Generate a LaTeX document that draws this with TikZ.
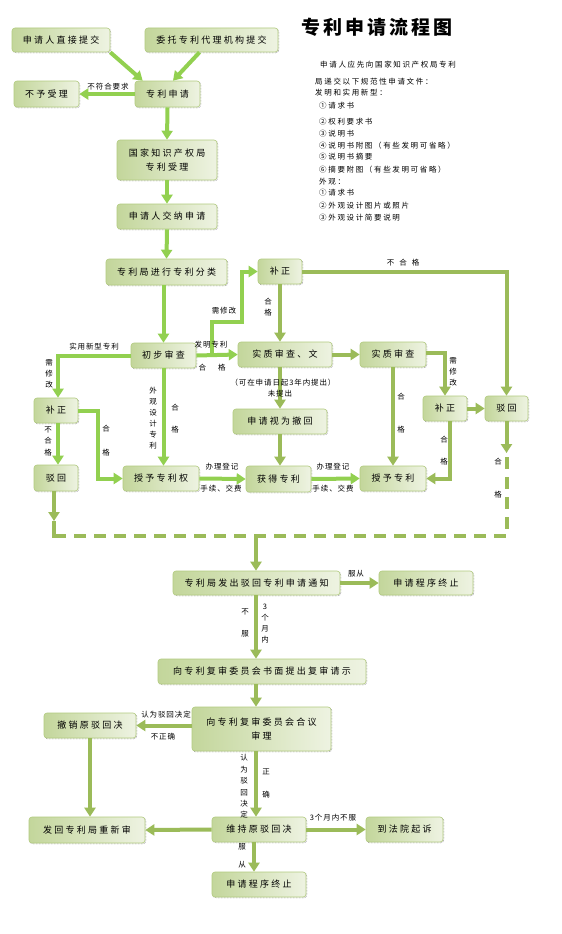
\documentclass[tikz,border=0pt]{standalone}
\usepackage{fontspec}
\newfontfamily\cjkbox[LetterSpace=25]{Noto Sans CJK SC}
\newfontfamily\cjklbl[LetterSpace=12]{Noto Sans CJK SC}
\newfontfamily\cjknote[LetterSpace=22]{Noto Sans CJK SC}
\newfontfamily\cjktitle[LetterSpace=15]{Noto Sans CJK SC}
\usetikzlibrary{arrows.meta,shadows,calc}
\definecolor{boxD}{HTML}{C3D69B}
\definecolor{boxL}{HTML}{EEF3E2}
\definecolor{boxB}{HTML}{B2CB7F}
\definecolor{limeC}{HTML}{92D050}
\definecolor{oliveC}{HTML}{9BBB59}
\tikzset{
  box/.style={rounded corners=3pt, draw=boxB, line width=0.6pt,
    left color=boxD, right color=boxL, inner sep=0pt, align=center,
    font=\cjkbox\fontsize{9}{14}\selectfont,
    general shadow={shadow xshift=0.8pt, shadow yshift=-0.8pt, fill=white,
      draw=black!65, densely dotted, line width=0.5pt}},
  wh/.style 2 args={minimum width=#1pt, minimum height=#2pt},
  lbl/.style={inner sep=0pt, align=center, font=\cjklbl\fontsize{7.5}{9}\selectfont},
  note/.style={inner sep=0pt, anchor=west, font=\cjknote\fontsize{7.5}{9}\selectfont},
  lime/.style={draw=limeC, line width=4pt, -{Triangle[width=11pt,length=9pt]}},
  olive/.style={draw=oliveC, line width=4pt, -{Triangle[width=11pt,length=9pt]}},
  limeline/.style={draw=limeC, line width=4pt},
  oliveline/.style={draw=oliveC, line width=4pt},
  dashline/.style={draw=oliveC, line width=4pt, dash pattern=on 12pt off 8pt},
}
\begin{document}
\begin{tikzpicture}[x=1pt,y=-1pt]
\fill[white] (0,0) rectangle (562,934);
\useasboundingbox (0,0) rectangle (562,934);

% title and notes
\node[inner sep=0pt, font=\cjktitle\bfseries\fontsize{19}{22}\selectfont] (title) at (377,27) {专利申请流程图};
\node[note] (t1) at (320,65) {申请人应先向国家知识产权局专利};
\node[note] (t2) at (315,82) {局递交以下规范性申请文件：};
\node[note] (t3) at (315,93) {发明和实用新型：};
\node[note] (t4) at (319,106) {①请求书};
\node[note] (t5) at (319,122) {②权利要求书};
\node[note] (t6) at (319,134) {③说明书};
\node[note] (t7) at (319,146) {④说明书附图（有些发明可省略）};
\node[note] (t8) at (319,157) {⑤说明书摘要};
\node[note] (t9) at (319,170) {⑥摘要附图（有些发明可省略）};
\node[note] (t10) at (319,182) {外观：};
\node[note] (t11) at (319,193) {①请求书};
\node[note] (t12) at (319,206) {②外观设计图片或照片};
\node[note] (t13) at (319,218) {③外观设计简要说明};

% boxes
\node[box, wh={98}{24}] (n1) at (61,40) {申请人直接提交};
\node[box, wh={133}{24}] (n2) at (211.5,40) {委托专利代理机构提交};
\node[box, wh={65}{26}] (n3) at (46.5,94) {不予受理};
\node[box, wh={65}{26}] (n4) at (167.5,94) {专利申请};
\node[box, wh={100}{40}] (n5) at (167,160) {国家知识产权局\\专利受理};
\node[box, wh={100}{25}] (n6) at (167,216.5) {申请人交纳申请};
\node[box, wh={121}{26}] (n7) at (166.5,272) {专利局进行专利分类};
\node[box, wh={44}{25}] (n8) at (280,271.5) {补正};
\node[box, wh={65}{25}] (n9) at (163.5,355.5) {初步审查};
\node[box, wh={94}{25}] (n10) at (285,354.5) {实质审查、文};
\node[box, wh={66}{25}] (n11) at (393,354.5) {实质审查};
\node[box, wh={44}{25}] (n12) at (56,410.5) {补正};
\node[box, wh={44}{26}] (n13) at (56,478) {驳回};
\node[box, wh={76}{25}] (n14) at (161,478.5) {授予专利权};
\node[box, wh={94}{25}] (n15) at (280,421.5) {申请视为撤回};
\node[box, wh={65}{26}] (n16) at (278.5,479) {获得专利};
\node[box, wh={66}{25}] (n17) at (393,478.5) {授予专利};
\node[box, wh={44}{25}] (n18) at (445,408.5) {补正};
\node[box, wh={43}{25}] (n19) at (506.5,408.5) {驳回};
\node[box, wh={167}{24}] (n20) at (256.5,583) {专利局发出驳回专利申请通知};
\node[box, wh={94}{24}] (n21) at (426,583) {申请程序终止};
\node[box, wh={208}{25}] (n22) at (262,671.5) {向专利复审委员会书面提出复审请示};
\node[box, wh={139}{44}] (n23) at (261.5,729) {向专利复审委员会合议\\审理};
\node[box, wh={92}{25}] (n24) at (90,725.5) {撤销原驳回决};
\node[box, wh={116}{26}] (n25) at (87,830) {发回专利局重新审};
\node[box, wh={94}{25}] (n26) at (259,829.5) {维持原驳回决};
\node[box, wh={77}{25}] (n27) at (404.5,829.5) {到法院起诉};
\node[box, wh={94}{25}] (n28) at (259,884.5) {申请程序终止};

% helper coordinates
\coordinate (r1) at (212,355.5);
\coordinate (k1) at (212,322);
\coordinate (k2) at (242,322);
\coordinate (k3) at (98,410.5);
\coordinate (e1) at (54,521);
\coordinate (e2) at (54,536);
\coordinate (e3) at (60,536);
\coordinate (d1) at (506.5,453);
\coordinate (d2) at (506.5,536);
\coordinate (m) at (256,536);
\coordinate (vx) at (256,0);
\coordinate (vy) at (254,0);

% top connectors
\draw[lime] (n1.south east) -- ($(n4.north west)+(8,0)$);
\draw[lime] ($(n2.south)+(-12,0)$) -- ($(n4.north)+(5.5,0)$);
\draw[lime] (n4.west) -- (n3.east);
\draw[lime] (n4.south) -- (n5.north);
\draw[lime] (n5.south) -- (n6.north);
\draw[lime] (n6.south) -- (n7.north);
\draw[lime] (n9 |- n7.south) -- (n9.north);
\draw[lime] (n9.east) -- (n10.west);
\draw[lime] (r1) -- (k1) -- (k2) |- (n8.west);
\draw[olive] (n8.south) -- (n8.south |- n10.north);
\draw[olive] (n8.east) -| (n19.north);
\draw[olive] (n10.east) -- (n11.west);
\draw[olive] (n15 |- n10.south) -- (n15.north);
\draw[olive] (n15.south) -- (n15.south |- n16.north);
\draw[olive] ($(n11.east)+(0,-1.5)$) -| (n18.north);
\draw[olive] (n11.south) -- (n17.north);
\draw[olive] (n18.east) -- (n19.west);
\draw[olive] ($(n18.south)+(5,0)$) |- (n17.east);
\draw[lime] (n9.west) -| ($(n12.north)+(2,0)$);
\draw[lime] ($(n12.south)+(2,0)$) -- ($(n13.north)+(2,0)$);
\draw[lime] (n12.east) -- (k3) |- (n14.west);
\draw[lime] (n9.south) -- (n9.south |- n14.north);
\draw[lime] (n14.east) -- (n16.west);
\draw[lime] (n16.east) -- (n17.west);
% rejection merge
\draw[olive] (n13.south -| e1) -- (e1);
\draw[oliveline] (e1) -- (e2) -- (e3);
\draw[olive] (n19.south) -- (d1);
\draw[dashline] (e2) -- (d2) -- (d1);
\draw[olive] (m) -- (m |- n20.north);
% lower connectors
\draw[olive] (n20.east) -- (n21.west);
\draw[olive] (n20.south -| vx) -- (n22.north -| vx);
\draw[olive] (n22.south -| vx) -- (n23.north -| vx);
\draw[olive] (n23.west |- n24.east) -- (n24.east);
\draw[olive] (n24.south) -- (n24.south |- n25.north);
\draw[olive] (n23.south -| vx) -- (n26.north -| vx);
\draw[olive] (n26.west) -- (n25.east);
\draw[olive] (n26.east) -- (n27.west);
\draw[olive] (n26.south -| vy) -- (n28.north -| vy);

% labels
\node[lbl] (l1) at (108,87) {不符合要求};
\node[lbl] (l2) at (211,345) {发明专利};
\node[lbl] (l3) at (212,368) {合\hspace{12pt}格};
\node[lbl] (l4) at (224,311) {需修改};
\node[lbl] (l5) at (268,307.5) {合\\[2pt]格};
\node[lbl] (l6) at (403,263) {不\hspace{5pt}合\hspace{5pt}格};
\node[lbl] (l7) at (283,383) {（可在申请日起3年内提出）};
\node[lbl] (l8) at (280,394) {未提出};
\node[lbl] (l9) at (94,347) {实用新型专利};
\node[lbl] (l10) at (49,374) {需\\[2pt]修\\[2pt]改};
\node[lbl] (l11) at (48,441) {不\\[2.5pt]合\\[2.5pt]格};
\node[lbl] (l12) at (106,441) {合\\[15pt]格};
\node[lbl] (l13) at (153,418) {外\\[2pt]观\\[2pt]设\\[2pt]计\\[2pt]专\\[2pt]利};
\node[lbl] (l14) at (175,419) {合\\[13pt]格};
\node[lbl] (l15) at (222,467) {办理登记};
\node[lbl] (l16) at (221,489) {手续、交费};
\node[lbl] (l17) at (333,467) {办理登记};
\node[lbl] (l18) at (333,489) {手续、交费};
\node[lbl] (l19) at (453,372) {需\\[2pt]修\\[2pt]改};
\node[lbl] (l20) at (401,413.5) {合\\[24pt]格};
\node[lbl] (l21) at (444,451) {合\\[13pt]格};
\node[lbl] (l22) at (498,478.5) {合\\[24pt]格};
\node[lbl] (l23) at (356,574) {服从};
\node[lbl] (l24) at (245,623) {不\\[13pt]服};
\node[lbl] (l25) at (265,623.5) {3\\[2pt]个\\[2pt]月\\[2pt]内};
\node[lbl] (l26) at (166,715) {认为驳回决定};
\node[lbl] (l27) at (163,737) {不正确};
\node[lbl] (l28) at (244,786.5) {认\\[2.4pt]为\\[2.4pt]驳\\[2.4pt]回\\[2.4pt]决\\[2.4pt]定};
\node[lbl] (l29) at (266,783.5) {正\\[14pt]确};
\node[lbl] (l30) at (333,818) {3个月内不服};
\node[lbl] (l31) at (242,856) {服\\[9pt]从};
\end{tikzpicture}
\end{document}
